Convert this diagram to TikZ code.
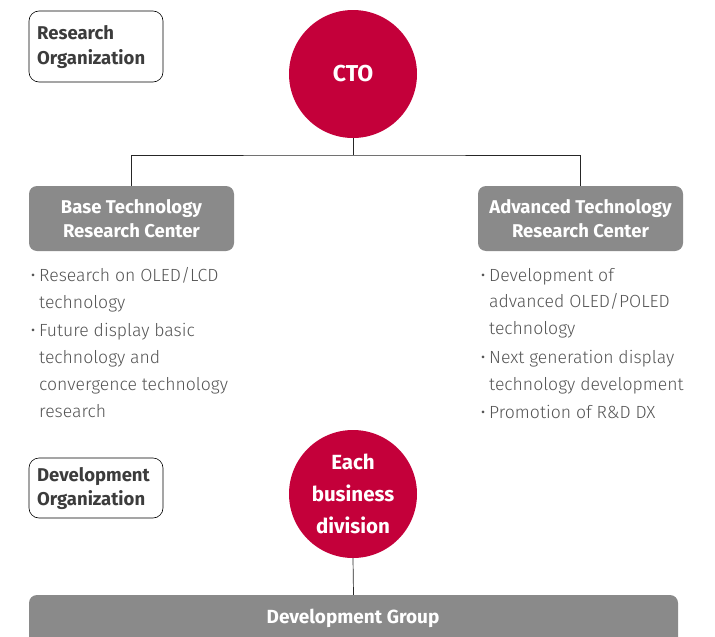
\documentclass[tikz,border=0pt]{standalone}
\usepackage{fontspec}
\setmainfont{Fira Sans}
\newfontfamily\lightfont{Fira Sans Light}
\usetikzlibrary{positioning}
\definecolor{lgred}{HTML}{C4003A}
\definecolor{boxgray}{HTML}{8A8A8A}
\definecolor{labelgray}{HTML}{3C3C3C}
\definecolor{textgray}{HTML}{555555}
\newcommand{\bul}{\makebox[8.5pt][l]{•}}
\tikzset{
  orgbox/.style={draw=black, line width=0.6pt, rounded corners=10pt, fill=white},
  orglabel/.style={anchor=base west, inner sep=0pt, text=labelgray, font=\bfseries\fontsize{18.5}{20}\selectfont},
  redcirc/.style={circle, fill=lgred, minimum size=128pt, inner sep=0pt, text=white, font=\bfseries\fontsize{20.5}{32}\selectfont, align=center},
  centerbox/.style={fill=boxgray, rounded corners=8pt, text=white, font=\bfseries\fontsize{18.5}{24}\selectfont, align=center, inner sep=0pt},
  bullettext/.style={anchor=base west, inner sep=0pt, text=textgray, font=\lightfont\fontsize{17.6}{27}\selectfont, align=left},
  link/.style={draw=black!85, line width=0.7pt}
}
\begin{document}
\begin{tikzpicture}[x=1pt,y=-1pt]
\useasboundingbox (0,0) rectangle (715,637);
% Research organization label
\draw[orgbox] (29,11) rectangle (163,82);
\node[orglabel] (rl1) at (37,39) {Research};
\node[orglabel] (rl2) at (37,64) {Organization};
% CTO
\node[redcirc, font=\bfseries\fontsize{23}{32}\selectfont] (cto) at (353,74) {CTO};
% centers
\node[centerbox, minimum width=205pt, minimum height=65pt] (base) at (131.5,218.5) {Base Technology\\Research Center};
\node[centerbox, minimum width=205pt, minimum height=65pt] (adv) at (580.5,218.5) {Advanced Technology\\Research Center};
\coordinate (j) at (353,155);
\draw[link] (cto.south) -- (j);
\draw[link] (base.north) |- (j) -| (adv.north);
% bullets left
\node[bullettext] (bl1) at (30.5,281) {\bul Research on OLED/LCD};
\node[bullettext] (bl2) at (39,308) {technology};
\node[bullettext] (bl3) at (30.5,336) {\bul Future display basic};
\node[bullettext] (bl4) at (39,363) {technology and};
\node[bullettext] (bl5) at (39,390) {convergence technology};
\node[bullettext] (bl6) at (39,417) {research};
% bullets right
\node[bullettext] (br1) at (480.5,281) {\bul Development of};
\node[bullettext] (br2) at (489,307) {advanced OLED/POLED};
\node[bullettext] (br3) at (489,334) {technology};
\node[bullettext] (br4) at (480.5,363) {\bul Next generation display};
\node[bullettext] (br5) at (489,390) {technology development};
\node[bullettext] (br6) at (480.5,418) {\bul Promotion of R\&D DX};
% Development organization label
\draw[orgbox] (29,458) rectangle (163,518);
\node[orglabel] (dl1) at (37,481) {Development};
\node[orglabel] (dl2) at (37,505) {Organization};
% Each business division
\node[redcirc] (ebd) at (353,494) {Each\\business\\division};
% Development group
\node[fill=boxgray, rounded corners=8pt, minimum width=649pt, minimum height=60pt, inner sep=0pt] (dg) at (353.5,625) {};
\node[text=white, font=\bfseries\fontsize{19}{20}\selectfont, anchor=base, inner sep=0pt] (dgl) at (353,623) {Development Group};
\draw[link] (ebd.south) -- (dg.north);
\end{tikzpicture}
\end{document}
